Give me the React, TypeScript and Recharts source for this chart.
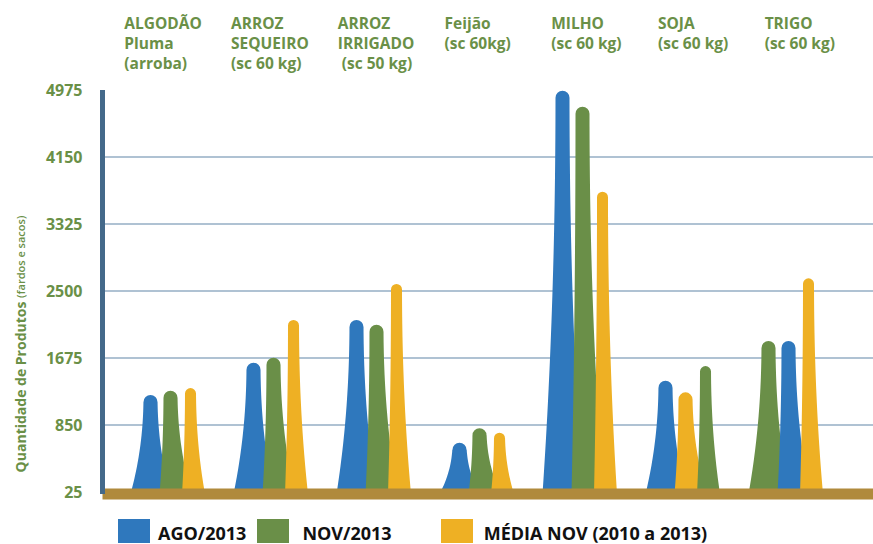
import React from 'react';
import { BarChart, Bar, XAxis, YAxis, CartesianGrid, Cell, Legend } from 'recharts';

const categoryLabels = [
  'ALGODÃO\nPluma\n(arroba)',
  'ARROZ\nSEQUEIRO\n(sc 60 kg)',
  'ARROZ\nIRRIGADO\n (sc 50 kg)',
  'Feijão\n(sc 60kg)',
  'MILHO\n(sc 60 kg)',
  'SOJA\n(sc 60 kg)',
  'TRIGO\n(sc 60 kg)',
];

const seriesNames = ['AGO/2013', 'NOV/2013', 'MÉDIA NOV (2010 a 2013)'];
const seriesColors = ['#2f78bd', '#6a8f48', '#eeb024'];

const ago2013 = [1220, 1617, 2143, 632, 4967, 1396, 1884];
const nov2013 = [1272, 1679, 2085, 809, 4770, 1576, 1884];
const mediaNov = [1305, 2143, 2586, 755, 3723, 1252, 2656];

// order in which the three series stand inside each category (index into series)
const slotOrder = [
  [0, 1, 2],
  [0, 1, 2],
  [0, 1, 2],
  [0, 1, 2],
  [0, 1, 2],
  [0, 2, 1],
  [1, 0, 2],
];

const yTicks = [25, 850, 1675, 2500, 3325, 4150, 4975];
const gridValues = [850, 1675, 2500, 3325, 4150];

const seriesValues = [ago2013, nov2013, mediaNov];

const data = categoryLabels.map((name, i) => {
  const row: any = { name };
  slotOrder[i].forEach((s, k) => {
    row['v' + k] = seriesValues[s][i];
    row['c' + k] = seriesColors[s];
  });
  return row;
});

const GREEN_TEXT = '#6a9047';
const FONT = '"Open Sans", "Noto Sans", sans-serif';

const slotStyle = [
  { fl: 13, fr: 13, dw: 0 },
  { fl: 4, fr: 14, dw: 0 },
  { fl: 3, fr: 9, dw: -3 },
];

function makeSpike(slot: number) {
  const st = slotStyle[slot];
  return (props: any) => {
    const { x, y, width, height, fill } = props;
    if (height == null || height <= 0) return <g />;
    const w = width + st.dw;
    const cx = x + width / 2;
    const r = w / 2;
    const top = y;
    const bottom = y + height;
    const H = height;
    const N = 30;
    const right: string[] = [];
    const left: string[] = [];
    const startD = Math.max(H - r, 0);
    for (let k = 0; k <= N; k++) {
      const d = startD * (1 - k / N);
      const u = 1 - d / H;
      const f = Math.pow(Math.max(u, 0), 2.1);
      const yy = bottom - d;
      right.push(`L${(cx + r + st.fr * f).toFixed(2)},${yy.toFixed(2)}`);
      left.unshift(`L${(cx - r - st.fl * f).toFixed(2)},${yy.toFixed(2)}`);
    }
    const path =
      `M${cx - r},${top + r} A${r},${r} 0 0 1 ${cx + r},${top + r} ` +
      right.join(' ') +
      ` L${(cx - r - st.fl).toFixed(2)},${bottom} ` +
      left.join(' ') +
      ' Z';
    return <path d={path} fill={fill} />;
  };
}

const CategoryTick = (props: any) => {
  const { x, payload } = props;
  const lines = String(payload.value).split('\n');
  const baselines = [28.5, 48.5, 68.5];
  return (
    <g>
      {lines.map((ln, i) => (
        <text
          key={i}
          x={x - 53}
          y={baselines[i]}
          textAnchor="start"
          fill={GREEN_TEXT}
          fontSize={15.5}
          fontWeight={700}
          fontFamily={FONT}
          style={{ whiteSpace: 'pre' }}
        >
          {ln}
        </text>
      ))}
    </g>
  );
};

const YTitle = () => {
  const cx = 20;
  const cy = 344;
  return (
    <text
      x={cx}
      y={cy}
      transform={`rotate(-90, ${cx}, ${cy})`}
      textAnchor="middle"
      dominantBaseline="central"
      fill={GREEN_TEXT}
      fontFamily={FONT}
    >
      <tspan fontSize={14} fontWeight={700}>Quantidade de Produtos </tspan>
      <tspan fontSize={11} fontWeight={600}>(fardos e sacos)</tspan>
    </text>
  );
};

const LegendContent = () => {
  const gaps = [11, 49, 0];
  const textGap = [8, 13, 11];
  return (
    <div
      style={{
        display: 'flex',
        alignItems: 'flex-start',
        paddingLeft: 118,
        fontFamily: FONT,
      }}
    >
      {seriesNames.map((n, i) => (
        <div key={n} style={{ display: 'flex', alignItems: 'flex-start', marginRight: gaps[i] }}>
          <div style={{ width: 32, height: 24, background: seriesColors[i], marginRight: textGap[i] }} />
          <span
            style={{
              fontSize: 18,
              fontWeight: 700,
              color: '#111',
              lineHeight: '22px',
              marginTop: 3,
              whiteSpace: 'nowrap',
            }}
          >
            {n}
          </span>
        </div>
      ))}
    </div>
  );
};

export default function App() {
  return (
    <div style={{ position: 'absolute', left: 0, top: 0, width: 873, height: 544, background: '#fff' }}>
      <BarChart
        width={873}
        height={544}
        data={data}
        margin={{ top: 0, right: 0, bottom: 30, left: 0 }}
        barSize={14}
        barGap={6}
        style={{ fontFamily: FONT }}
      >
        <CartesianGrid
          vertical={false}
          horizontal={true}
          horizontalValues={gridValues}
          stroke="#afc2d3"
          strokeWidth={2}
        />
        {[0, 1, 2].map((k) => (
          <Bar
            key={k}
            dataKey={'v' + k}
            isAnimationActive={false}
            shape={makeSpike(k)}
          >
            {data.map((row, i) => (
              <Cell key={i} fill={row['c' + k]} />
            ))}
          </Bar>
        ))}
        <XAxis
          dataKey="name"
          height={20}
          padding={{ left: 16, right: 33.5 }}
          axisLine={{ stroke: '#b08a3c', strokeWidth: 11 }}
          tickLine={false}
          tick={false}
        />
        <XAxis
          xAxisId="t"
          dataKey="name"
          orientation="top"
          height={90}
          padding={{ left: 21.5, right: 2 }}
          axisLine={false}
          tickLine={false}
          interval={0}
          tick={<CategoryTick />}
        />
        <YAxis
          width={102.5}
          domain={[0, 4975]}
          allowDataOverflow
          ticks={yTicks}
          interval={0}
          tickSize={0}
          tickMargin={20}
          tickLine={false}
          axisLine={{ stroke: '#44698a', strokeWidth: 5 }}
          tick={{ fill: GREEN_TEXT, fontSize: 16, fontWeight: 700, fontFamily: FONT }}
          label={{ content: <YTitle /> }}
        />
        <Legend
          layout="horizontal"
          align="center"
          verticalAlign="middle"
          wrapperStyle={{ position: 'absolute', left: 0, top: 519, width: 873, height: 25, overflow: 'hidden' }}
          content={<LegendContent />}
        />
      </BarChart>
    </div>
  );
}
